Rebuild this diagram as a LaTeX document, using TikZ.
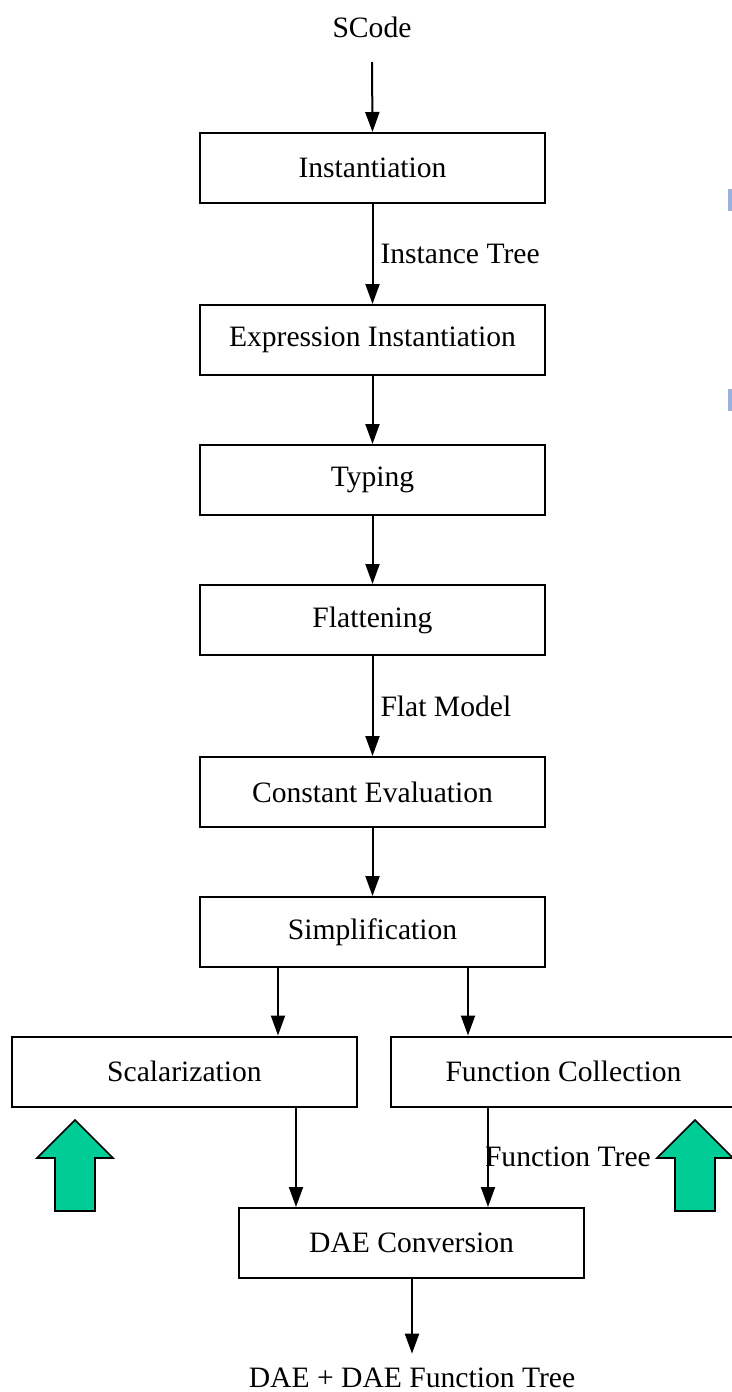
\documentclass[tikz,border=0pt]{standalone}
\usepackage{fontspec}
\setmainfont{Liberation Serif}
\usepackage{xcolor}
\usetikzlibrary{arrows.meta,positioning,calc}
\definecolor{arrowgreen}{RGB}{0,204,150}
\definecolor{markblue}{RGB}{155,176,222}

\begin{document}
\begin{tikzpicture}[
    x=0.5pt, y=-0.5pt,
    stage/.style={rectangle, draw, line width=1pt, minimum width=172.5pt, minimum height=35pt, inner sep=0pt, font=\fontsize{14.8}{17}\selectfont},
    io/.style={font=\fontsize{14.8}{17}\selectfont, inner sep=0pt},
    lbl/.style={font=\fontsize{14.8}{17}\selectfont, inner sep=0pt},
    arrow/.style={-{Triangle[width=7pt, length=10pt]}, line width=1pt},
    uparrow/.style={draw=black, line width=0.8pt, fill=arrowgreen}
]
    \useasboundingbox (0,0) rectangle (732,1392);
    \clip (0,0) rectangle (732,1392);

    % Input
    \node[io] (src) at (372,27) {SCode};
    \coordinate (srcend) at (372,62);

    % Main chain
    \node[stage] (inst) at (372.5,168) {Instantiation};
    \node[stage] (expr) at (372.5,340) {Expression Instantiation};
    \node[stage] (typ) at (372.5,480) {Typing};
    \node[stage] (flat) at (372.5,620) {Flattening};
    \node[stage] (const) at (372.5,792) {Constant Evaluation};
    \node[stage] (simp) at (372.5,932) {Simplification};

    % Branches
    \node[stage] (scal) at (184.5,1071.5) {Scalarization};
    \node[stage] (func) at (563.5,1071.5) {Function Collection};
    \node[stage] (dae) at (411.5,1243) {DAE Conversion};

    % Output
    \node[io] (out) at (412,1378) {DAE + DAE Function Tree};

    % Arrows - main chain
    \draw[arrow] (srcend) -- (inst.north);
    \draw[arrow] (inst) -- node[lbl, right, xshift=3.5pt] {Instance Tree} (expr);
    \draw[arrow] (expr) -- (typ);
    \draw[arrow] (typ) -- (flat);
    \draw[arrow] (flat) -- node[lbl, right, xshift=3.5pt] {Flat Model} (const);
    \draw[arrow] (const) -- (simp);

    % Arrows - branches
    \draw[arrow] (simp.south -| 278,0) -- (scal.north -| 278,0);
    \draw[arrow] (simp.south -| 468,0) -- (func.north -| 468,0);
    \draw[arrow] (scal.south -| 296,0) -- (dae.north -| 296,0);
    \draw[arrow] (func.south -| 488,0) -- node[lbl, right, xshift=-2pt] {Function Tree} (dae.north -| 488,0);
    \draw[arrow] (dae.south -| 412,0) -- ($(out.north)+(0,-14)$);

    % Green up arrows
    \draw[uparrow] (55,1211) -- (55,1158) -- (37,1158) -- (75,1120) -- (113,1158) -- (95,1158) -- (95,1211) -- cycle;
    \draw[uparrow] (675,1211) -- (675,1158) -- (657,1158) -- (695,1120) -- (733,1158) -- (715,1158) -- (715,1211) -- cycle;

    % Edge marks
    \fill[markblue] (728,189) rectangle (732,211);
    \fill[markblue] (728,389) rectangle (732,411);
\end{tikzpicture}
\end{document}
